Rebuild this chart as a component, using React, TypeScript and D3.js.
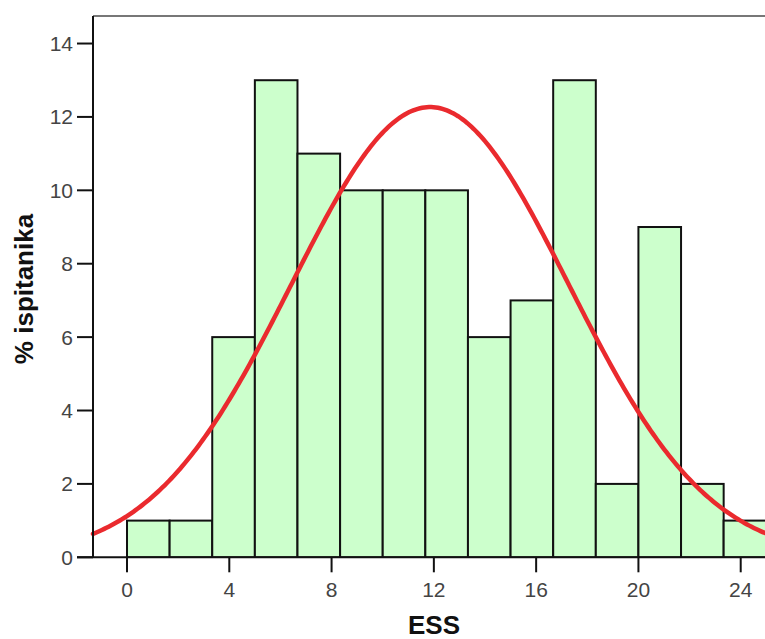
import React from "react";
import * as d3 from "d3";

// Histogram bins (ESS score), bin width 25/15
const binStarts = [0, 1.6667, 3.3333, 5, 6.6667, 8.3333, 10, 11.6667, 13.3333, 15, 16.6667, 18.3333, 20, 21.6667, 23.3333];
const binWidth = 1.6667;
const percents = [1, 1, 6, 13, 11, 10, 10, 10, 6, 7, 13, 2, 9, 2, 1];
const xTicks = [0, 4, 8, 12, 16, 20, 24];
const yTicks = [0, 2, 4, 6, 8, 10, 12, 14];
const fitMean = 11.85;
const fitSd = 5.42;
const xDomain = [-1.33, 24.95];
const yDomain = [0, 14.75];

export default function App() {
  const W = 765, H = 639;
  const left = 93, right = 765, top = 16, bottom = 557.3;
  const x = d3.scaleLinear().domain(xDomain).range([left, right]);
  const y = d3.scaleLinear().domain(yDomain).range([bottom, top]);

  const samples = d3.range(0, 301).map(i => xDomain[0] + (xDomain[1] - xDomain[0]) * i / 300);
  const dens = (v: number) =>
    (100 * binWidth) / (fitSd * Math.sqrt(2 * Math.PI)) * Math.exp(-0.5 * ((v - fitMean) / fitSd) ** 2);
  const line = d3.line<number>().x(v => x(v)).y(v => y(dens(v)))(samples) || "";

  const tickColor = "#444";
  const font = "'Liberation Sans', Arial, sans-serif";

  return (
    <svg width={W} height={H} style={{ position: "absolute", left: 0, top: 0, background: "#fff" }}>
      <defs>
        <clipPath id="plot">
          <rect x={left} y={top} width={right - left} height={bottom - top} />
        </clipPath>
      </defs>
      <line x1={left} x2={right} y1={top} y2={top} stroke="#777" strokeWidth={2} />
      <g clipPath="url(#plot)">
        {percents.map((p, i) => (
          <rect
            key={i}
            x={x(binStarts[i])}
            y={y(p)}
            width={x(binStarts[i] + binWidth) - x(binStarts[i])}
            height={bottom - y(p)}
            fill="#ccffcc"
            stroke="#111"
            strokeWidth={2}
          />
        ))}
      </g>
      <path d={line} fill="none" stroke="#ea2a2e" strokeWidth={4.5} strokeLinecap="round" />
      <line x1={left} x2={left} y1={top} y2={bottom} stroke="#111" strokeWidth={2} />
      <line x1={left - 16} x2={right} y1={bottom} y2={bottom} stroke="#111" strokeWidth={2} />
      {yTicks.map(t => (
        <g key={"y" + t}>
          <line x1={left - 16} x2={left} y1={y(t)} y2={y(t)} stroke="#111" strokeWidth={2} />
          <text x={left - 20} y={y(t)} dy="0.36em" textAnchor="end" fontSize={21} fill={tickColor} fontFamily={font}>
            {t}
          </text>
        </g>
      ))}
      {xTicks.map(t => (
        <g key={"x" + t}>
          <line x1={x(t)} x2={x(t)} y1={bottom} y2={bottom + 15} stroke="#111" strokeWidth={2} />
          <text x={x(t)} y={597} textAnchor="middle" fontSize={21} fill={tickColor} fontFamily={font}>
            {t}
          </text>
        </g>
      ))}
      <text x={434} y={634} textAnchor="middle" fontSize={26} fontWeight="bold" fill="#111" fontFamily={font}>
        ESS
      </text>
      <text
        transform={`translate(33,289) rotate(-90)`}
        textAnchor="middle"
        fontSize={26}
        fontWeight="bold"
        fill="#111"
        fontFamily={font}
      >
        % ispitanika
      </text>
    </svg>
  );
}
